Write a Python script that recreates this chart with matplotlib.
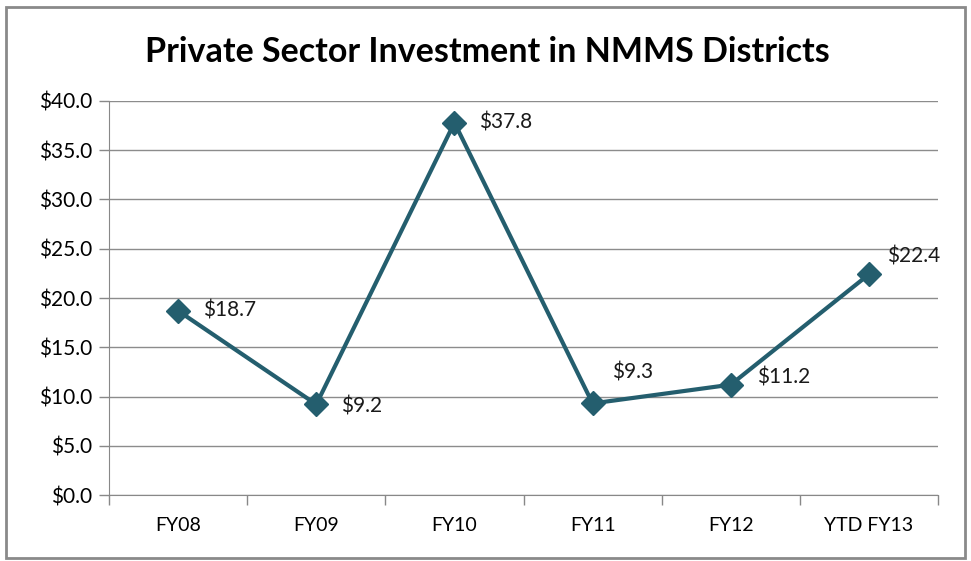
import matplotlib.pyplot as plt
from matplotlib.patches import Rectangle

categories = ['FY08', 'FY09', 'FY10', 'FY11', 'FY12', 'YTD FY13']
values = [18.7, 9.2, 37.8, 9.3, 11.2, 22.4]
label_offsets = [(18, 0), (18, -1.5), (18, 0), (14, 22), (19, 5), (13, 13)]

plt.rcParams['font.family'] = ['Lato', 'DejaVu Sans']
line_color = '#245E6E'

fig = plt.figure(figsize=(9.71, 5.61), dpi=100)
ax = fig.add_axes([0.1123, 0.1176, 0.8537, 0.7024])

x = list(range(len(categories)))
ax.plot(x, values, color=line_color, linewidth=3, marker='D', markersize=12,
        zorder=3, clip_on=False)
for xi, v, off in zip(x, values, label_offsets):
    ax.annotate(f'${v:.1f}', (xi, v), xytext=off, textcoords='offset points',
                ha='left', va='center', fontsize=15, color='#1a1a1a')

ax.set_xlim(-0.5, len(categories) - 0.5)
ax.set_ylim(0, 40)
ax.set_yticks(range(0, 41, 5))
ax.set_yticklabels([f'${v:.1f}' for v in range(0, 41, 5)], fontsize=15)
ax.set_xticks(x)
ax.set_xticklabels(categories, fontsize=14)
ax.set_xticks([i - 0.5 for i in range(len(categories) + 1)], minor=True)
ax.tick_params(axis='x', which='major', length=0, pad=16)
ax.tick_params(axis='x', which='minor', length=7, color='#888888', width=1)
ax.tick_params(axis='y', length=7, color='#888888', width=1, pad=5)
ax.grid(axis='y', color='#8c8c8c', linewidth=1)
ax.set_axisbelow(True)
for side in ['top', 'right']:
    ax.spines[side].set_visible(False)
for side in ['left', 'bottom']:
    ax.spines[side].set_color('#888888')

fig.text(0.5016, 0.908, 'Private Sector Investment in NMMS Districts',
         ha='center', va='center', fontsize=24.5, fontweight='bold')

fig.patches.append(Rectangle((0.006, 0.006), 0.988, 0.982, transform=fig.transFigure,
                             fill=False, edgecolor='#8a8a8a', linewidth=2))

fig.savefig('out.png', dpi=100)
